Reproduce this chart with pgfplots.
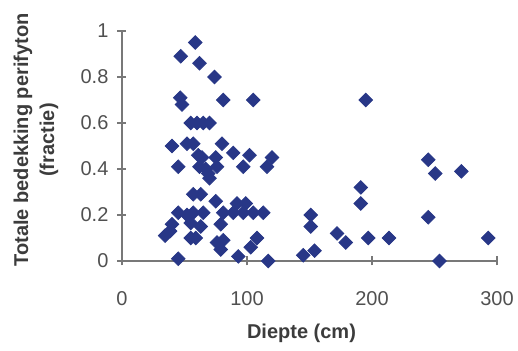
\documentclass[border=0pt]{standalone}
\usepackage{pgfplots}
\pgfplotsset{compat=1.18}
\usepackage{fontspec}
\setmainfont{Liberation Sans}
\definecolor{mk}{RGB}{40,55,135}
\definecolor{axc}{RGB}{120,120,120}
\definecolor{tlc}{RGB}{80,80,80}
\definecolor{lbc}{RGB}{60,60,60}
\begin{document}
\begin{tikzpicture}
\useasboundingbox (-61pt,-45pt) rectangle (198pt,130.5pt);
\begin{axis}[
  at={(0,0)}, anchor=south west,
  scale only axis, width=187.5pt, height=115pt,
  xmin=0, xmax=300, ymin=0, ymax=1,
  axis x line*=bottom, axis y line*=left,
  axis line style={axc, line width=0.6pt},
  tick style={axc, line width=0.6pt},
  tick align=center, major tick length=4.5pt,
  xtick={0,100,200,300}, ytick={0,0.2,0.4,0.6,0.8,1},
  /pgf/number format/assume math mode=true,
  ticklabel style={font=\fontsize{10}{12}\selectfont, text=tlc},
  xticklabel style={yshift=-9.5pt},
  yticklabel style={xshift=-1pt},
  clip=false,
  xlabel={Diepte (cm)},
  ylabel={Totale bedekking perifyton\\(fractie)},
  every axis x label/.style={at={(axis description cs:0.5,0)}, yshift=-36pt, anchor=center, xshift=-4pt, font=\bfseries\fontsize{10}{12}\selectfont, text=lbc},
  every axis y label/.style={at={(axis description cs:0,0.5)}, xshift=-43pt, yshift=3pt, rotate=90, anchor=center, align=center, font=\bfseries\fontsize{10}{13}\selectfont, text=lbc},
]
\addplot[only marks, mark=square*, mark size=2.4pt, mark options={rotate=45, fill=mk, draw=mk}] coordinates {
(58.6,0.95) (47,0.89) (62,0.86) (74,0.80) (46.6,0.71) (48,0.68) (81,0.70) (105,0.70) (195,0.70)
(55,0.60) (60,0.60) (65,0.60) (70,0.60)
(40,0.50) (52,0.51) (57,0.51) (80,0.51)
(61,0.46) (64,0.45) (75,0.45) (89,0.47) (102,0.46) (120,0.45)
(45,0.41) (62,0.41) (67,0.40) (69,0.38) (76,0.41) (97,0.41) (116,0.41) (70,0.36)
(245,0.44) (250.6,0.38) (271.5,0.39) (191,0.32) (191,0.25) (245,0.19)
(151,0.20) (151,0.15) (172,0.12) (179,0.08) (197,0.10) (213.6,0.10) (293,0.10)
(145,0.025) (154,0.045) (254,0.0) (117,0.0)
(63,0.29) (57,0.29) (75,0.26) (92,0.25) (99,0.25)
(45,0.21) (52,0.20) (57,0.21) (65,0.21) (81,0.21) (89,0.21) (97,0.21) (105,0.21) (113,0.21)
(55,0.165) (40,0.16) (38.5,0.13) (34.5,0.11) (63,0.15) (79,0.16)
(55,0.10) (59,0.10) (81,0.09) (76,0.08) (79,0.05) (108,0.10) (103,0.06)
(45,0.01) (93,0.02)
};
\end{axis}
\end{tikzpicture}
\end{document}
